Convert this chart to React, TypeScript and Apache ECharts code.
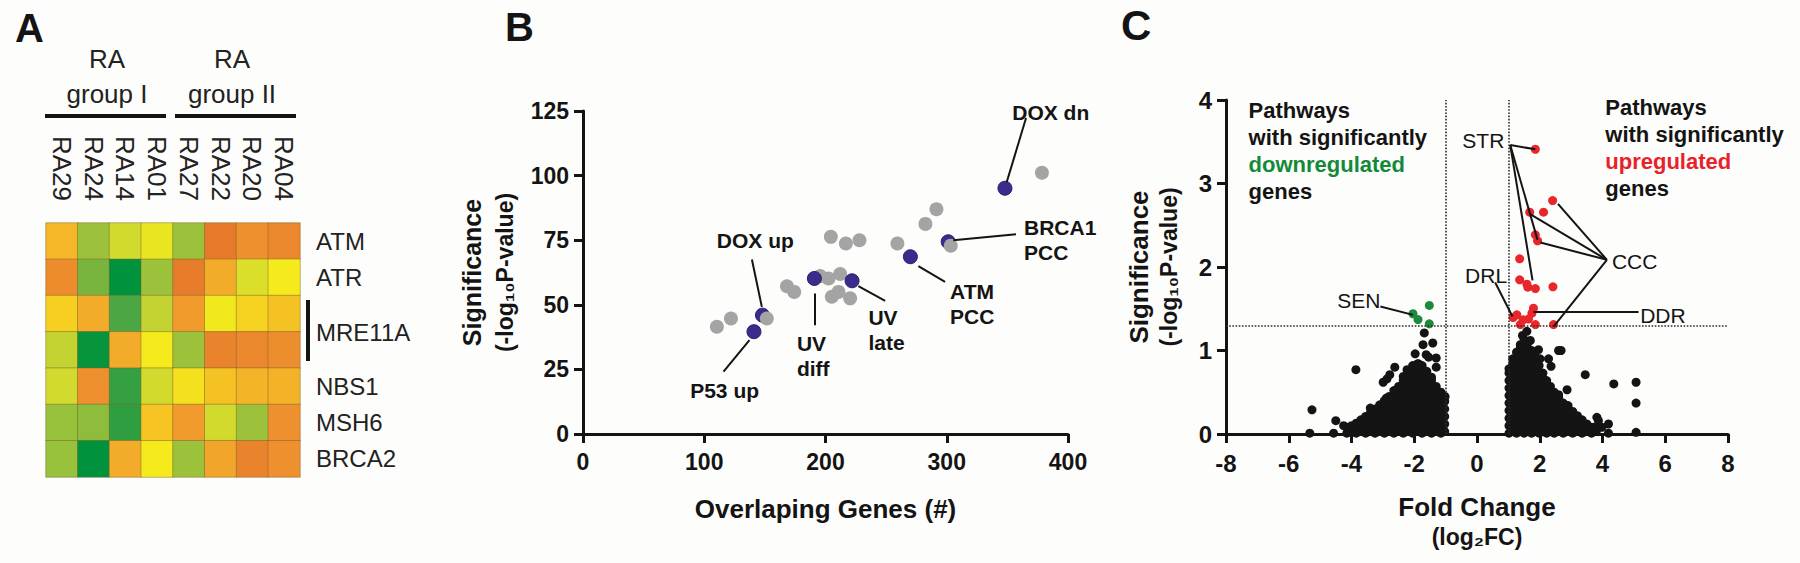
import React, { useEffect, useRef } from 'react';
import * as echarts from 'echarts';

const FONT = '"Liberation Sans", Arial, Helvetica, sans-serif';
const INK = '#141414';

// ---------- Panel A : heatmap ----------
const sampleCols = ['RA29', 'RA24', 'RA14', 'RA01', 'RA27', 'RA22', 'RA20', 'RA04'];
const geneRows = ['ATM', 'ATR', 'MRE11A', 'MRE11A', 'NBS1', 'MSH6', 'BRCA2'];
// relative expression score: 0 = orange (low) ... 9 = dark green (high)
const exprATM = [2.4, 6, 5, 4.3, 6, 0, 1, 0.6];
const exprATR = [0.8, 7, 9, 6, 0.1, 2, 4.7, 4];
const exprMRE11Aa = [3.2, 2, 8, 5.3, 1.4, 4.1, 3.3, 2.8];
const exprMRE11Ab = [5.3, 8.9, 2, 4, 6, 0.4, 0.6, 0.9];
const exprNBS1 = [5, 1, 8.3, 5, 3.7, 2.8, 2.3, 2.2];
const exprMSH6 = [6.1, 6.4, 8.4, 2.9, 1.4, 5, 6, 1];
const exprBRCA2 = [6.1, 9, 2, 4, 6, 1.8, 0.4, 1];
const exprRows = [exprATM, exprATR, exprMRE11Aa, exprMRE11Ab, exprNBS1, exprMSH6, exprBRCA2];
const heatColors = ['#e67a2a', '#ee902e', '#f2ac2a', '#f6c822', '#f4ea1c', '#d2da2e', '#9cc23c', '#78b43e', '#4ca644', '#00923c'];

// ---------- Panel B : overlapping genes vs significance ----------
const bGrayBack = [
  [378.5, 101.1], [291.5, 87], [282.4, 81.3], [259.3, 73.7], [204.4, 76.3], [216.8, 73.7], [228, 75],
  [195.6, 61.1], [202.5, 60.2], [212.1, 61.9], [168.2, 57.2], [174.2, 55], [205.2, 53.1], [210.7, 55],
  [220.3, 52.5], [122, 44.7], [110.4, 41.5],
];
const bGrayFront = [[303.3, 72.9], [151.6, 44.7]];
const bPurple = [[348, 95.1], [301.2, 74.4], [270, 68.6], [190.8, 60.2], [221.9, 59.3], [148, 46], [141, 39.6]];
const bNotes = [
  { text: 'DOX dn', at: [354, 124.5], from: [365.4, 122.3], to: [349.5, 97.5] },
  { text: 'BRCA1\nPCC', at: [363.7, 75.1], from: [357.1, 77.3], to: [305.4, 75.0] },
  { text: 'ATM\nPCC', at: [302.7, 50.2], from: [276.6, 65.0], to: [298.6, 58.9] },
  { text: 'UV\nlate', at: [235.4, 40.2], from: [227.1, 57.2], to: [249.2, 51.5] },
  { text: 'UV\ndiff', at: [176.4, 30.2], from: [190.9, 54.4], to: [190.9, 42.1] },
  { text: 'DOX up', at: [110.4, 75.0], from: [139.3, 67.5], to: [147.5, 49.2] },
  { text: 'P53 up', at: [88.4, 17.0], from: [115.9, 24.1], to: [137.3, 36.3] },
];

// ---------- Panel C : volcano ----------
const cloudLeft: [number, number[]][] = [
  [-4.15, [0.01, 0.08]],
  [-4.0, [0.03, 0.1]],
  [-3.85, [0.01, 0.08, 0.13]],
  [-3.7, [0.03, 0.11, 0.17]],
  [-3.55, [0.01, 0.08, 0.16, 0.21]],
  [-3.4, [0.03, 0.11, 0.19, 0.25]],
  [-3.25, [0.01, 0.08, 0.17, 0.26, 0.3]],
  [-3.1, [0.03, 0.12, 0.21, 0.3, 0.35]],
  [-2.95, [0.01, 0.1, 0.19, 0.28, 0.37, 0.4]],
  [-2.8, [0.03, 0.12, 0.21, 0.3, 0.39, 0.45]],
  [-2.65, [0.01, 0.1, 0.19, 0.28, 0.37, 0.46, 0.52]],
  [-2.5, [0.03, 0.12, 0.21, 0.3, 0.39, 0.48, 0.57]],
  [-2.35, [0.01, 0.1, 0.19, 0.28, 0.37, 0.46, 0.55, 0.64, 0.69]],
  [-2.2, [0.03, 0.12, 0.21, 0.3, 0.39, 0.48, 0.57, 0.66, 0.75]],
  [-2.05, [0.01, 0.1, 0.19, 0.28, 0.37, 0.46, 0.55, 0.64, 0.73, 0.82]],
  [-1.9, [0.03, 0.12, 0.21, 0.3, 0.39, 0.48, 0.57, 0.66, 0.75, 0.84]],
  [-1.75, [0.01, 0.1, 0.19, 0.28, 0.37, 0.46, 0.55, 0.64, 0.73, 0.82]],
  [-1.6, [0.03, 0.12, 0.21, 0.3, 0.39, 0.48, 0.57, 0.66, 0.75]],
  [-1.45, [0.01, 0.1, 0.19, 0.28, 0.37, 0.46, 0.55, 0.64, 0.68]],
  [-1.3, [0.03, 0.12, 0.21, 0.3, 0.39, 0.48, 0.57]],
  [-1.15, [0.01, 0.1, 0.19, 0.28, 0.37, 0.46, 0.5]],
  [-1.03, [0.03, 0.12, 0.21, 0.3, 0.39, 0.44]],
];
const cloudRight: [number, number[]][] = [
  [1.02, [0.01, 0.1, 0.19, 0.28, 0.37, 0.46, 0.55, 0.64, 0.73, 0.78]],
  [1.14, [0.04, 0.13, 0.22, 0.31, 0.4, 0.49, 0.58, 0.67, 0.76, 0.85, 0.9]],
  [1.26, [0.01, 0.1, 0.19, 0.28, 0.37, 0.46, 0.55, 0.64, 0.73, 0.82, 0.91, 0.98]],
  [1.38, [0.04, 0.13, 0.22, 0.31, 0.4, 0.49, 0.58, 0.67, 0.76, 0.85, 0.94, 1.03, 1.07]],
  [1.5, [0.01, 0.1, 0.19, 0.28, 0.37, 0.46, 0.55, 0.64, 0.73, 0.82, 0.91, 1.0, 1.09, 1.13]],
  [1.62, [0.04, 0.13, 0.22, 0.31, 0.4, 0.49, 0.58, 0.67, 0.76, 0.85, 0.94, 1.03, 1.11]],
  [1.74, [0.01, 0.1, 0.19, 0.28, 0.37, 0.46, 0.55, 0.64, 0.73, 0.82, 0.91, 1.0]],
  [1.86, [0.04, 0.13, 0.22, 0.31, 0.4, 0.49, 0.58, 0.67, 0.76, 0.85, 0.92]],
  [1.98, [0.01, 0.1, 0.19, 0.28, 0.37, 0.46, 0.55, 0.64, 0.73, 0.82]],
  [2.1, [0.04, 0.13, 0.22, 0.31, 0.4, 0.49, 0.58, 0.67, 0.73]],
  [2.22, [0.01, 0.1, 0.19, 0.28, 0.37, 0.46, 0.55, 0.64]],
  [2.34, [0.04, 0.13, 0.22, 0.31, 0.4, 0.49, 0.57]],
  [2.46, [0.01, 0.1, 0.19, 0.28, 0.37, 0.46, 0.5]],
  [2.6, [0.04, 0.13, 0.22, 0.31, 0.4, 0.44]],
  [2.75, [0.01, 0.1, 0.19, 0.28, 0.37]],
  [2.9, [0.04, 0.13, 0.22, 0.31, 0.34]],
  [3.05, [0.01, 0.1, 0.19, 0.27]],
  [3.2, [0.04, 0.13, 0.22]],
  [3.35, [0.01, 0.1, 0.17]],
  [3.5, [0.04, 0.12]],
  [3.65, [0.01, 0.08]],
  [3.8, [0.03]],
];
const outliersLeft = [
  [-5.33, 0.01], [-5.26, 0.29], [-4.57, 0.01], [-4.5, 0.16], [-4.25, 0.1], [-3.86, 0.77], [-3.4, 0.31],
  [-3.17, 0.29], [-2.62, 0.8], [-2.78, 0.71], [-2.87, 0.66], [-2.99, 0.62], [-2.6, 0.49], [-2.89, 0.43],
  [-2.78, 0.43], [-1.68, 1.21], [-1.72, 1.07], [-1.41, 1.09], [-1.97, 0.96], [-1.62, 0.95], [-1.54, 0.92],
  [-1.3, 0.91], [-1.3, 0.8], [-1.86, 0.84], [-1.91, 0.79], [-2.23, 0.77], [-2.18, 0.73], [-1.02, 0.45],
];
const outliersRight = [
  [1.59, 1.23], [1.45, 1.18], [1.7, 1.12], [1.96, 1.01], [1.85, 0.93], [2.01, 0.9], [2.28, 0.9], [2.36, 0.81],
  [2.6, 1.0], [2.68, 1.0], [2.23, 0.6], [2.87, 0.53], [2.5, 0.47], [2.6, 0.47], [3.45, 0.71], [4.36, 0.6],
  [5.07, 0.62], [5.07, 0.37], [5.07, 0.02], [4.19, 0.12], [4.19, 0.01], [3.82, 0.2], [3.87, 0.16],
  [3.73, 0.08], [3.98, 0.08],
];
const cGreen = [[-2.04, 1.44], [-1.52, 1.54], [-1.88, 1.37], [-1.52, 1.32]];
const cRed = [
  [1.86, 3.41], [2.41, 2.795], [1.68, 2.656], [2.12, 2.656], [1.86, 2.385], [1.93, 2.313], [1.36, 2.098],
  [1.36, 1.846], [1.59, 1.794], [1.62, 1.758], [1.86, 1.742], [2.42, 1.762], [1.8, 1.507], [1.75, 1.447],
  [1.27, 1.427], [1.15, 1.395], [1.47, 1.367], [1.64, 1.376], [1.38, 1.31], [1.86, 1.31], [2.44, 1.31],
];
const cThresholdX = [-1, 1];
const cThresholdY = 1.3;
const cNotes = [
  { text: 'STR', at: [0.87, 3.52], side: 'left' },
  { text: 'CCC', at: [4.3, 2.07], side: 'right' },
  { text: 'DRL', at: [0.96, 1.894], side: 'left' },
  { text: 'DDR', at: [5.2, 1.419], side: 'right' },
  { text: 'SEN', at: [-3.08, 1.6], side: 'left' },
];
const cLeaders = [
  [[1.06, 3.46], [1.86, 3.41]],
  [[1.06, 3.46], [1.93, 2.325]],
  [[1.06, 3.46], [1.77, 1.84]],
  [[4.14, 2.086], [2.58, 2.756]],
  [[4.14, 2.086], [1.68, 2.636]],
  [[4.14, 2.086], [2.02, 2.293]],
  [[4.14, 2.086], [2.44, 1.287]],
  [[0.58, 1.814], [1.13, 1.407]],
  [[5.15, 1.46], [1.8, 1.46]],
  [[-3.08, 1.527], [-2.04, 1.427]],
];
const cBlocks = [
  { at: [-7.28, 3.387], lines: ['Pathways', 'with significantly'], key: 'downregulated', style: 'g', tail: 'genes' },
  { at: [4.09, 3.426], lines: ['Pathways', 'with significantly'], key: 'upregulated', style: 'r', tail: 'genes' },
];

function buildOption(): any {
  const heatData: number[][] = [];
  exprRows.forEach((row, r) => row.forEach((v, c) => heatData.push([c, r, v])));

  const black: number[][] = [];
  cloudLeft.forEach(([x, ys]) => ys.forEach((y) => black.push([x, y])));
  cloudRight.forEach(([x, ys]) => ys.forEach((y) => black.push([x, y])));
  outliersLeft.forEach((p) => black.push(p));
  outliersRight.forEach((p) => black.push(p));

  const axisLine = { show: true, onZero: false, lineStyle: { color: INK, width: 3 } };
  const axisTick = { show: true, length: 9, lineStyle: { color: INK, width: 3 } };
  const tickLabel = (size: number, margin: number) => ({
    fontFamily: FONT, fontSize: size, fontWeight: 'bold', color: INK, margin,
  });

  const leaderStyle = { color: INK, width: 2, type: 'solid', opacity: 1 };

  return {
    animation: false,
    backgroundColor: '#fdfdfb',
    textStyle: { fontFamily: FONT },
    grid: [
      { left: 46, top: 223, width: 254, height: 254 },
      { left: 583, top: 111, width: 485, height: 323 },
      { left: 1226, top: 100, width: 502, height: 334 },
    ],
    visualMap: {
      show: false, type: 'continuous', seriesIndex: 0, dimension: 2, min: 0, max: 9,
      inRange: { color: heatColors },
    },
    xAxis: [
      {
        type: 'category', gridIndex: 0, position: 'top', data: sampleCols,
        axisLine: { show: false }, axisTick: { show: false },
        axisLabel: { rotate: 90, margin: 22, fontFamily: FONT, fontSize: 26, color: '#222', interval: 0 },
      },
      {
        type: 'value', gridIndex: 1, min: 0, max: 400, interval: 100,
        axisLine, axisTick, splitLine: { show: false },
        axisLabel: tickLabel(23, 16),
        name: 'Overlaping Genes (#)', nameLocation: 'middle', nameGap: 60,
        nameTextStyle: { fontFamily: FONT, fontSize: 26, fontWeight: 'bold', color: INK, lineHeight: 30 },
      },
      {
        type: 'value', gridIndex: 2, min: -8, max: 8, interval: 2,
        axisLine, axisTick, splitLine: { show: false },
        axisLabel: tickLabel(24, 17),
        name: '{a|Fold Change}\n{b|(log₂FC)}', nameLocation: 'middle', nameGap: 58,
        nameTextStyle: {
          rich: {
            a: { fontFamily: FONT, fontSize: 26, fontWeight: 'bold', color: INK, lineHeight: 30 },
            b: { fontFamily: FONT, fontSize: 23, fontWeight: 'bold', color: INK, lineHeight: 30 },
          },
        },
      },
    ],
    yAxis: [
      {
        type: 'category', gridIndex: 0, position: 'right', inverse: true, data: geneRows,
        axisLine: { show: false }, axisTick: { show: false },
        axisLabel: {
          margin: 16, fontFamily: FONT, fontSize: 24, color: '#222', interval: 0,
          formatter: (v: string, i: number) => (i === 2 ? '' : i === 3 ? '{m|' + v + '}' : v),
          rich: { m: { fontFamily: FONT, fontSize: 24, color: '#222', padding: [0, 0, 36, 0] } },
        },
      },
      {
        type: 'value', gridIndex: 1, min: 0, max: 125, interval: 25,
        axisLine, axisTick, splitLine: { show: false },
        axisLabel: tickLabel(23, 14),
        name: '{a|Significance}\n{b|(-log₁₀P-value)}', nameLocation: 'middle', nameGap: 62,
        nameTextStyle: {
          rich: {
            a: { fontFamily: FONT, fontSize: 25, fontWeight: 'bold', color: INK, lineHeight: 33 },
            b: { fontFamily: FONT, fontSize: 23, fontWeight: 'bold', color: INK, lineHeight: 33 },
          },
        },
      },
      {
        type: 'value', gridIndex: 2, min: 0, max: 4, interval: 1,
        axisLine, axisTick, splitLine: { show: false },
        axisLabel: tickLabel(24, 14),
        name: '{a|Significance}\n{b|(-log₁₀P-value)}', nameLocation: 'middle', nameGap: 42,
        nameTextStyle: {
          rich: {
            a: { fontFamily: FONT, fontSize: 26, fontWeight: 'bold', color: INK, lineHeight: 30 },
            b: { fontFamily: FONT, fontSize: 23, fontWeight: 'bold', color: INK, lineHeight: 30 },
          },
        },
      },
    ],
    series: [
      {
        type: 'heatmap', xAxisIndex: 0, yAxisIndex: 0, data: heatData, silent: true,
        itemStyle: { borderColor: 'rgba(120,95,45,0.45)', borderWidth: 1 },
      },
      {
        type: 'scatter', xAxisIndex: 1, yAxisIndex: 1, data: bGrayBack, symbolSize: 14, silent: true,
        itemStyle: { color: '#a4a4a4', opacity: 1 },
      },
      {
        type: 'scatter', xAxisIndex: 1, yAxisIndex: 1, data: bPurple, symbolSize: 14, silent: true,
        itemStyle: { color: '#3c2a8c', borderColor: '#2a1d6a', borderWidth: 1, opacity: 1 },
      },
      {
        type: 'scatter', xAxisIndex: 1, yAxisIndex: 1, data: bGrayFront, symbolSize: 14, silent: true,
        itemStyle: { color: '#a4a4a4', opacity: 1 },
      },
      {
        type: 'scatter', xAxisIndex: 1, yAxisIndex: 1, symbolSize: 0, silent: true,
        itemStyle: { opacity: 1 },
        data: bNotes.map((n) => ({ value: n.at, name: n.text })),
        label: {
          show: true, position: 'right', distance: 0, formatter: '{b}', align: 'left',
          fontFamily: FONT, fontSize: 21, fontWeight: 'bold', color: INK, lineHeight: 25, opacity: 1,
        },
        markLine: {
          silent: true, symbol: ['none', 'none'], label: { show: false }, lineStyle: leaderStyle,
          data: bNotes.map((n) => [{ coord: n.from }, { coord: n.to }]),
        },
      },
      {
        type: 'scatter', xAxisIndex: 2, yAxisIndex: 2, data: [], silent: true,
        markLine: {
          silent: true, symbol: ['none', 'none'], label: { show: false },
          lineStyle: { color: '#2a2a2a', width: 1.6, type: 'dotted', opacity: 1 },
          data: [...cThresholdX.map((x) => ({ xAxis: x })), { yAxis: cThresholdY }],
        },
      },
      {
        type: 'scatter', xAxisIndex: 2, yAxisIndex: 2, data: black, symbolSize: 9, silent: true,
        itemStyle: { color: INK, opacity: 1 },
      },
      {
        type: 'scatter', xAxisIndex: 2, yAxisIndex: 2, data: cGreen, symbolSize: 9, silent: true,
        itemStyle: { color: '#1f8a3e', opacity: 1 },
      },
      {
        type: 'scatter', xAxisIndex: 2, yAxisIndex: 2, data: cRed, symbolSize: 9, silent: true,
        itemStyle: { color: '#e8262b', opacity: 1 },
      },
      {
        type: 'scatter', xAxisIndex: 2, yAxisIndex: 2, symbolSize: 0, silent: true,
        itemStyle: { opacity: 1 },
        data: [
          ...cNotes.map((n) => ({
            value: n.at, name: n.text,
            label: { position: n.side, align: n.side === 'left' ? 'right' : 'left' },
          })),
          ...cBlocks.map((b) => ({
            value: b.at, name: b.key,
            label: {
              position: 'right', align: 'left',
              formatter: b.lines.map((l) => '{k|' + l + '}').join('\n') + '\n{' + b.style + '|' + b.key + '}\n{k|' + b.tail + '}',
            },
          })),
        ],
        label: {
          show: true, distance: 0, formatter: '{b}', opacity: 1,
          fontFamily: FONT, fontSize: 21, color: INK,
          rich: {
            k: { fontFamily: FONT, fontSize: 22, fontWeight: 'bold', color: INK, lineHeight: 27 },
            g: { fontFamily: FONT, fontSize: 22, fontWeight: 'bold', color: '#138a3a', lineHeight: 27 },
            r: { fontFamily: FONT, fontSize: 22, fontWeight: 'bold', color: '#e8222a', lineHeight: 27 },
          },
        },
        markLine: {
          silent: true, symbol: ['none', 'none'], label: { show: false }, lineStyle: leaderStyle,
          data: cLeaders.map(([a, b]) => [{ coord: a }, { coord: b }]),
        },
      },
    ],
    graphic: [
      { type: 'text', x: 15, y: 28, style: { text: 'A', fontFamily: FONT, fontSize: 40, fontWeight: 'bold', fill: INK, align: 'left', verticalAlign: 'middle', textAlign: 'left', textVerticalAlign: 'middle' } },
      { type: 'text', x: 505, y: 27, style: { text: 'B', fontFamily: FONT, fontSize: 40, fontWeight: 'bold', fill: INK, align: 'left', verticalAlign: 'middle', textAlign: 'left', textVerticalAlign: 'middle' } },
      { type: 'text', x: 1121, y: 25, style: { text: 'C', fontFamily: FONT, fontSize: 42, fontWeight: 'bold', fill: INK, align: 'left', verticalAlign: 'middle', textAlign: 'left', textVerticalAlign: 'middle' } },
      { type: 'text', x: 107, y: 59, style: { text: 'RA', fontFamily: FONT, fontSize: 26, fill: '#222', align: 'center', verticalAlign: 'middle', textAlign: 'center', textVerticalAlign: 'middle' } },
      { type: 'text', x: 107, y: 94, style: { text: 'group I', fontFamily: FONT, fontSize: 26, fill: '#222', align: 'center', verticalAlign: 'middle', textAlign: 'center', textVerticalAlign: 'middle' } },
      { type: 'text', x: 232, y: 59, style: { text: 'RA', fontFamily: FONT, fontSize: 26, fill: '#222', align: 'center', verticalAlign: 'middle', textAlign: 'center', textVerticalAlign: 'middle' } },
      { type: 'text', x: 232, y: 94, style: { text: 'group II', fontFamily: FONT, fontSize: 26, fill: '#222', align: 'center', verticalAlign: 'middle', textAlign: 'center', textVerticalAlign: 'middle' } },
      { type: 'line', shape: { x1: 45, y1: 116, x2: 166, y2: 116 }, style: { stroke: INK, lineWidth: 4 } },
      { type: 'line', shape: { x1: 175, y1: 116, x2: 296, y2: 116 }, style: { stroke: INK, lineWidth: 4 } },
      { type: 'line', shape: { x1: 308, y1: 300, x2: 308, y2: 361 }, style: { stroke: INK, lineWidth: 4 } },
    ],
  };
}

export default function App() {
  const ref = useRef<HTMLDivElement>(null);
  useEffect(() => {
    if (!ref.current) return;
    const chart = echarts.init(ref.current, null, { renderer: 'svg' });
    chart.setOption(buildOption());
    return () => chart.dispose();
  }, []);
  return (
    <div
      ref={ref}
      style={{ position: 'fixed', left: 0, top: 0, width: 1800, height: 563, background: '#fdfdfb' }}
    />
  );
}
